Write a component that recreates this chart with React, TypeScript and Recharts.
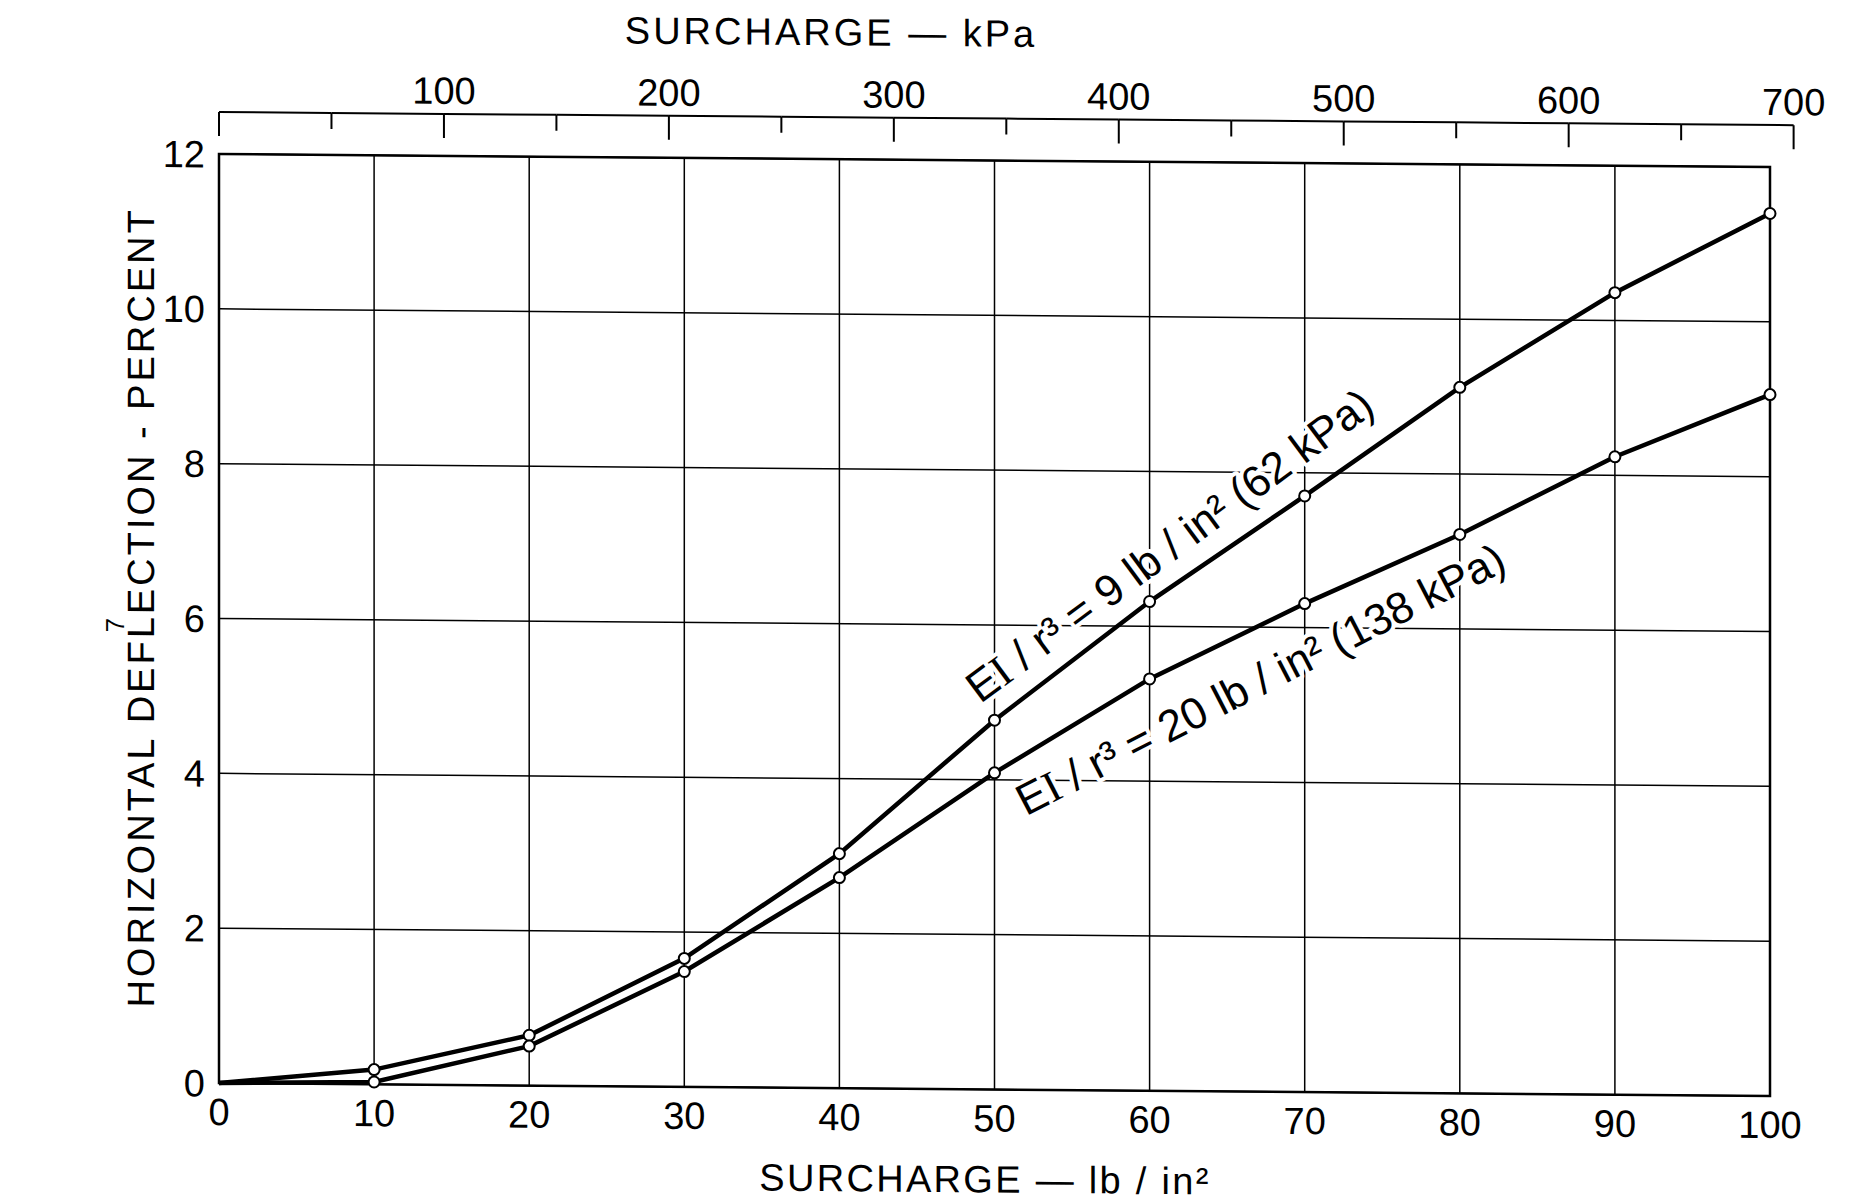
import {
  CartesianGrid,
  Line,
  LineChart,
  ReferenceArea,
  XAxis,
  YAxis,
} from "recharts";

// surcharge in lb/in2 (bottom axis)
const surchargePsi = [0, 10, 20, 30, 40, 50, 60, 70, 80, 90, 100];
// horizontal deflection in percent
const deflectionEI9 = [0, 0.19, 0.65, 1.66, 3.03, 4.77, 6.32, 7.7, 9.12, 10.36, 11.4];
const deflectionEI20 = [0, 0.03, 0.51, 1.49, 2.72, 4.09, 5.32, 6.31, 7.22, 8.24, 9.06];

const psiTicks = [0, 10, 20, 30, 40, 50, 60, 70, 80, 90, 100];
const kpaTicks = [0, 50, 100, 150, 200, 250, 300, 350, 400, 450, 500, 550, 600, 650, 700];
const percentTicks = [0, 2, 4, 6, 8, 10, 12];

const KPA_PER_PSI = 6.895;

const data = surchargePsi.map((psi, i) => ({
  psi,
  kpa: psi * KPA_PER_PSI,
  ei9: deflectionEI9[i],
  ei20: deflectionEI20[i],
}));

const FONT = "'Liberation Sans', Arial, sans-serif";
const SERIF = "'Liberation Serif', 'DejaVu Serif', serif";
const W = 1851;
const H = 1199;
const MARGIN = { top: 94, right: 81, bottom: 56, left: 109 };
const PLOT_W = W - MARGIN.left - MARGIN.right - 110;

const tickStyle = { fill: "#000", fontSize: 38, fontFamily: FONT };

// top kPa scale: line sits above the frame, ticks hang down from it
const KpaTick = (props: any) => {
  const { x, y, payload } = props;
  const v = Number(payload.value);
  const lineY = y - 42;
  const major = v % 100 === 0;
  const step = (PLOT_W * 50) / (100 * KPA_PER_PSI);
  return (
    <g>
      {v < 700 && (
        <line x1={x} x2={x + step} y1={lineY} y2={lineY} stroke="#000" strokeWidth={2} />
      )}
      <line x1={x} x2={x} y1={lineY} y2={lineY + (major ? 24 : 16)} stroke="#000" strokeWidth={2} />
      {major && v > 0 && (
        <text x={x} y={lineY - 10} textAnchor="middle" {...tickStyle}>
          {v}
        </text>
      )}
    </g>
  );
};

const RingDot = (props: any) => {
  const { cx, cy, index } = props;
  if (index === 0) return <g key={`e${index}`} />;
  return (
    <circle key={`d${index}`} cx={cx} cy={cy} r={5.5} fill="#fff" stroke="#000" strokeWidth={2} />
  );
};

const curveLabel = {
  textAnchor: "middle" as const,
  dy: "0.36em",
  fontSize: 44,
  letterSpacing: 0,
  fill: "#000",
  stroke: "#fff",
  strokeWidth: 8,
  paintOrder: "stroke",
  strokeLinejoin: "round" as const,
  fontFamily: FONT,
};

const titleStyle = {
  fill: "#000",
  fontSize: 38,
  fontFamily: FONT,
  letterSpacing: 3,
};

export default function App() {
  return (
    <div
      style={{
        position: "absolute",
        left: 0,
        top: 0,
        width: W,
        height: H,
        background: "#fff",
        transform: "skewY(0.48deg)",
        transformOrigin: "219px 0px",
      }}
    >
      <LineChart width={W} height={H} data={data} margin={MARGIN}>
        <CartesianGrid stroke="#000" strokeWidth={1.5} />
        <XAxis
          dataKey="psi"
          type="number"
          domain={[0, 100]}
          ticks={psiTicks}
          interval={0}
          tickLine={false}
          axisLine={false}
          tickSize={0}
          tickMargin={15}
          height={60}
          tick={tickStyle}
        />
        <XAxis
          xAxisId="kpa"
          dataKey="kpa"
          orientation="top"
          type="number"
          domain={[0, 100 * KPA_PER_PSI]}
          allowDataOverflow
          ticks={kpaTicks}
          interval={0}
          tickLine={false}
          axisLine={false}
          tickSize={0}
          tickMargin={0}
          height={60}
          tick={(p: any) => <KpaTick {...p} />}
        />
        <YAxis
          type="number"
          domain={[0, 12]}
          ticks={percentTicks}
          interval={0}
          tickLine={false}
          axisLine={false}
          tickSize={0}
          tickMargin={14}
          width={110}
          tick={tickStyle}
        />
        <ReferenceArea
          x1={0}
          x2={100}
          y1={0}
          y2={12}
          fill="none"
          fillOpacity={0}
          stroke="#000"
          strokeWidth={2.5}
        />

        <text transform="translate(1169 537) rotate(-36.8)" {...curveLabel}>
          E<tspan fontFamily={SERIF}>I</tspan> / r³ = 9 lb / in² (62 kPa)
        </text>
        <text transform="translate(1260 670) rotate(-27.5)" {...curveLabel}>
          E<tspan fontFamily={SERIF}>I</tspan> / r³ = 20 lb / in² (138 kPa)
        </text>

        <text x={831} y={40} textAnchor="middle" {...titleStyle}>
          SURCHARGE — kPa
        </text>
        <text x={985} y={1186} textAnchor="middle" {...titleStyle} letterSpacing={2.3}>
          SURCHARGE — lb / in²
        </text>
        <text
          transform="translate(140 608) rotate(-90)"
          textAnchor="middle"
          dy="0.36em"
          {...titleStyle}
        >
          HORIZONTAL DEFLECTION - PERCENT
        </text>
        <text
          transform="translate(115 626) rotate(-90)"
          textAnchor="middle"
          dy="0.36em"
          fontSize={26}
          fontFamily={FONT}
          fill="#000"
        >
          7
        </text>

        <Line
          dataKey="ei9"
          type="linear"
          stroke="#000"
          strokeWidth={4.5}
          dot={RingDot}
          activeDot={false}
          isAnimationActive={false}
        />
        <Line
          dataKey="ei20"
          type="linear"
          stroke="#000"
          strokeWidth={4.5}
          dot={RingDot}
          activeDot={false}
          isAnimationActive={false}
        />
      </LineChart>
    </div>
  );
}
